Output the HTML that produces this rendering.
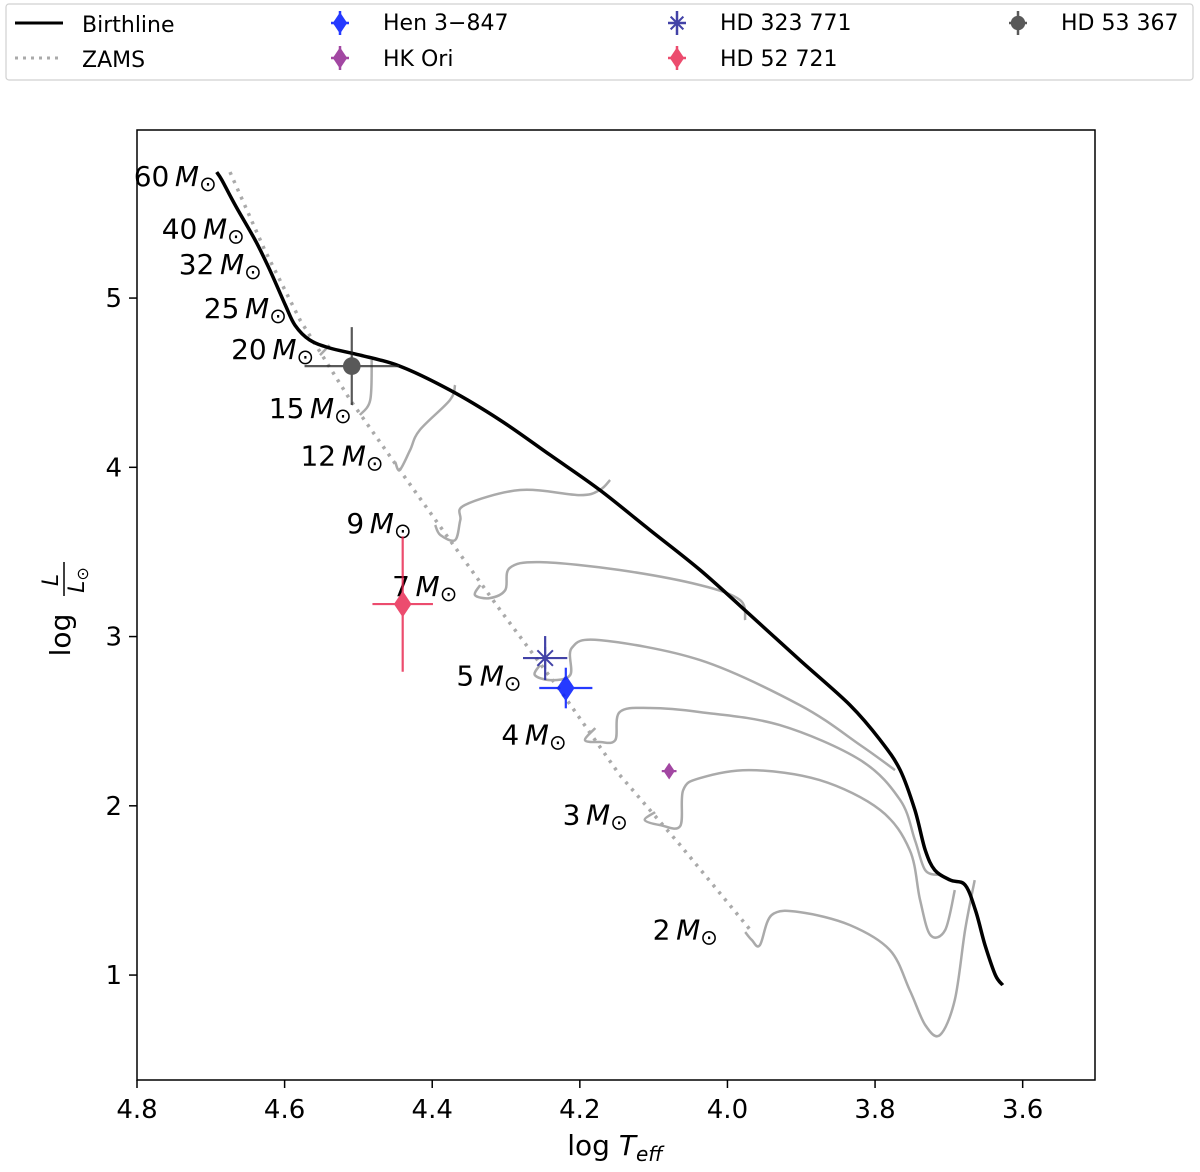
<!DOCTYPE html>
<html><head><meta charset="utf-8"><style>
html,body{margin:0;padding:0;background:#fff;}
svg text{font-family:"DejaVu Sans","Liberation Sans",sans-serif;}
</style></head><body>
<svg id="chart" width="1200" height="1167" viewBox="0 0 1200 1167" xmlns="http://www.w3.org/2000/svg">
<g>
<rect x="6" y="4" width="1187" height="76" rx="3" fill="#fff" stroke="#d0d0d0" stroke-width="1.2"/>
<line x1="15" y1="23" x2="63" y2="23" stroke="#000" stroke-width="3"/>
<text x="82" y="32" font-size="22">Birthline</text>
<line x1="15" y1="58" x2="63" y2="58" stroke="#aaa" stroke-width="3" stroke-dasharray="3,5"/>
<text x="82" y="67" font-size="22">ZAMS</text>
<g id="legmarks"></g>
<text x="383" y="30" font-size="22">Hen 3−847</text>
<text x="383" y="66" font-size="22">HK Ori</text>
<text x="720" y="30" font-size="22">HD 323 771</text>
<text x="720" y="66" font-size="22">HD 52 721</text>
<text x="1061" y="30" font-size="22">HD 53 367</text>
</g>
<rect x="137" y="130" width="958" height="950" fill="none" stroke="#000" stroke-width="1.5"/>
<g id="axes"></g>
<g id="plot"></g>
<text x="615" y="1155" font-size="28" text-anchor="middle">log <tspan font-style="italic">T</tspan><tspan font-style="italic" font-size="20" dy="6">eff</tspan></text>
<g transform="translate(70,610) rotate(-90)">
<text x="-25" y="0" font-size="28" text-anchor="middle">log</text>
<text x="30" y="-12" font-size="22" font-style="italic" text-anchor="middle">L</text>
<line x1="14" y1="-6" x2="48" y2="-6" stroke="#000" stroke-width="1.5"/>
<text x="30" y="14" font-size="22" text-anchor="middle"><tspan font-style="italic">L</tspan><tspan font-size="16" dy="4">⊙</tspan></text>
</g>
</svg>
<script>
const xTicks=[4.8,4.6,4.4,4.2,4.0,3.8,3.6];
const xTickLabels=["4.8","4.6","4.4","4.2","4.0","3.8","3.6"];
const yTicks=[1,2,3,4,5];
const yTickLabels=["1","2","3","4","5"];
const birthT=[4.692,4.685,4.667,4.640,4.620,4.599,4.586,4.566,4.539,4.498,4.444,4.376,4.308,4.240,4.173,4.105,4.037,3.969,3.902,3.834,3.793,3.766,3.746,3.732,3.719,3.698,3.678,3.664,3.651,3.637,3.627];
const birthL=[5.744,5.697,5.549,5.343,5.165,4.959,4.840,4.752,4.705,4.663,4.598,4.456,4.279,4.072,3.866,3.629,3.393,3.127,2.861,2.595,2.388,2.211,1.975,1.739,1.620,1.561,1.532,1.384,1.177,1.000,0.941];
const zamsT=[4.674,4.627,4.579,4.511,4.444,4.376,4.308,4.227,4.146,4.064,3.969];
const zamsL=[5.744,5.284,4.870,4.397,3.984,3.570,3.157,2.684,2.182,1.768,1.266];
const trackNames=["2","3","4","5","7","9","12","15","20"];
const trackT=[
[3.976,3.967,3.956,3.940,3.902,3.834,3.780,3.753,3.732,3.712,3.692,3.678,3.665],
[4.098,4.112,4.091,4.064,4.060,4.037,3.969,3.875,3.793,3.753,3.739,3.725,3.705,3.692],
[4.179,4.193,4.173,4.152,4.146,4.105,4.037,3.929,3.820,3.766,3.746,3.732,3.712],
[4.254,4.261,4.240,4.213,4.211,4.173,4.037,3.902,3.820,3.773],
[4.335,4.342,4.322,4.301,4.295,4.254,4.146,4.037,3.983,3.976],
[4.396,4.389,4.369,4.362,4.356,4.281,4.200,4.173,4.159],
[4.450,4.444,4.430,4.417,4.376,4.369],
[4.498,4.484,4.482],
[4.552,4.539]];
const trackL=[
[1.254,1.207,1.177,1.355,1.372,1.295,1.148,0.911,0.705,0.646,0.853,1.266,1.561],
[1.963,1.916,1.886,1.880,2.093,2.164,2.211,2.152,1.975,1.739,1.443,1.236,1.266,1.502],
[2.459,2.388,2.377,2.388,2.554,2.578,2.554,2.477,2.270,2.034,1.798,1.620,1.591],
[2.832,2.773,2.743,2.773,2.932,2.979,2.861,2.595,2.359,2.211],
[3.304,3.245,3.227,3.275,3.405,3.440,3.393,3.304,3.216,3.097],
[3.659,3.600,3.570,3.688,3.777,3.866,3.836,3.866,3.925],
[4.031,3.984,4.102,4.220,4.397,4.486],
[4.309,4.397,4.634],
[4.663,4.722]];
const starNames=["HD 53 367","HD 52 721","HD 323 771","Hen 3-847","HK Ori"];
const starT=[4.509,4.440,4.247,4.219,4.079];
const starL=[4.598,3.192,2.873,2.696,2.205];
const starTerr=[0.064,0.041,0.030,0.036,0.010];
const starLerr=[0.23,0.40,0.13,0.12,0.03];
const massLabels=["60","40","32","25","20","15","12","9","7","5","4","3","2"];
const massLabelT=[4.692,4.654,4.631,4.597,4.560,4.509,4.466,4.428,4.366,4.279,4.218,4.135,4.013];
const massLabelL=[5.72,5.41,5.20,4.94,4.70,4.35,4.07,3.67,3.30,2.77,2.42,1.95,1.27];

const NS="http://www.w3.org/2000/svg";
const X0=137,X1=1095,Y0=1080,Y1=130,TMAX=4.8,TMIN=3.502,LMIN=0.38,LMAX=5.993;
function sx(t){return X0+(TMAX-t)/(TMAX-TMIN)*(X1-X0);}
function sy(l){return Y0-(l-LMIN)/(LMAX-LMIN)*(Y0-Y1);}
function el(tag,attrs,parent){const e=document.createElementNS(NS,tag);for(const k in attrs)e.setAttribute(k,attrs[k]);parent.appendChild(e);return e;}
const axes=document.getElementById('axes'),plot=document.getElementById('plot');
xTicks.forEach((t,i)=>{
 const l=el('line',{x1:sx(t),x2:sx(t),y1:Y0,y2:Y0+8,stroke:'#000','stroke-width':1.5},axes);
 
 
 const tx=el('text',{x:sx(t),y:Y0+38,'font-size':26,'text-anchor':'middle'},axes);tx.textContent=xTickLabels[i];
 
 
});
yTicks.forEach((v,i)=>{
 const l=el('line',{x1:X0-8,x2:X0,y1:sy(v),y2:sy(v),stroke:'#000','stroke-width':1.5},axes);
 
 
 const tx=el('text',{x:X0-15,y:sy(v)+9,'font-size':26,'text-anchor':'end'},axes);tx.textContent=yTickLabels[i];
 
 
});
function smooth(T,L){
 const P=T.map((t,i)=>[sx(t),sy(L[i])]);
 let d='M'+P[0][0].toFixed(1)+','+P[0][1].toFixed(1);
 for(let i=0;i<P.length-1;i++){
  const p0=P[Math.max(0,i-1)],p1=P[i],p2=P[i+1],p3=P[Math.min(P.length-1,i+2)];
  const k=1/6;
  const c1=[p1[0]+(p2[0]-p0[0])*k,p1[1]+(p2[1]-p0[1])*k];
  const c2=[p2[0]-(p3[0]-p1[0])*k,p2[1]-(p3[1]-p1[1])*k];
  d+=' C'+c1.map(v=>v.toFixed(1)).join(',')+' '+c2.map(v=>v.toFixed(1)).join(',')+' '+p2.map(v=>v.toFixed(1)).join(',');
 }
 return d;
}
function pts(T,L){return T.map((t,i)=>sx(t).toFixed(1)+','+sy(L[i]).toFixed(1)).join(' ');}
trackT.forEach((T,i)=>{
 const p=el('path',{d:smooth(T,trackL[i]),fill:'none',stroke:'#aaa','stroke-width':2.5,'stroke-linejoin':'round'},plot);
 
 
});
const z=el('polyline',{points:pts(zamsT,zamsL),fill:'none',stroke:'#aaa','stroke-width':3.5,'stroke-dasharray':'3,6'},plot);


const b=el('path',{d:smooth(birthT,birthL),fill:'none',stroke:'#000','stroke-width':3.5,'stroke-linejoin':'round'},plot);


massLabels.forEach((m,i)=>{
 const tx=el('text',{x:sx(massLabelT[i]),y:sy(massLabelL[i])+10,'font-size':28,'text-anchor':'end'},plot);
 tx.innerHTML=m+'\u2009<tspan font-style="italic">M</tspan><tspan font-size="21" dy="5">⊙</tspan>';
 
 
});
const colors=['#222','#e8204a','#2e2e9e','#0018ff','#8b1a8b'];
const alphas=[0.75,0.8,0.9,0.85,0.8];
const shapes=['circle','diamond','star','diamond','diamond'];
const sizes=[11,11,11,11,7];
function marker(shape,x,y,r,c,parent){
 if(shape==='circle')return el('circle',{cx:x,cy:y,r:r*0.8,fill:c},parent);
 if(shape==='diamond')return el('polygon',{points:`${x},${y-r*1.2} ${x+r*0.8},${y} ${x},${y+r*1.2} ${x-r*0.8},${y}`,fill:c},parent);
 const g=el('g',{stroke:c,'stroke-width':2},parent);
 for(let a=0;a<4;a++){const an=a*Math.PI/4;el('line',{x1:x-r*Math.cos(an),y1:y-r*Math.sin(an),x2:x+r*Math.cos(an),y2:y+r*Math.sin(an)},g);}
 return g;
}
starT.forEach((t,i)=>{
 const g=el('g',{opacity:alphas[i]},plot);
 
 
 el('line',{x1:sx(t-starTerr[i]),x2:sx(t+starTerr[i]),y1:sy(starL[i]),y2:sy(starL[i]),stroke:colors[i],'stroke-width':2.2},g);
 el('line',{x1:sx(t),x2:sx(t),y1:sy(starL[i]-starLerr[i]),y2:sy(starL[i]+starLerr[i]),stroke:colors[i],'stroke-width':2.2},g);
 marker(shapes[i],sx(t),sy(starL[i]),sizes[i],colors[i],g);
});
const lm=document.getElementById('legmarks');
const legPos=[[1018,23],[677,58],[677,23],[340,23],[340,58]];
starT.forEach((t,i)=>{
 const g=el('g',{opacity:alphas[i]},lm);
 
 
 const [x,y]=legPos[i];
 el('line',{x1:x-9,x2:x+9,y1:y,y2:y,stroke:colors[i],'stroke-width':2.5},g);
 el('line',{x1:x,x2:x,y1:y-12,y2:y+12,stroke:colors[i],'stroke-width':2.5},g);
 marker(shapes[i],x,y,9,colors[i],g);
});
</script>
</body></html>
